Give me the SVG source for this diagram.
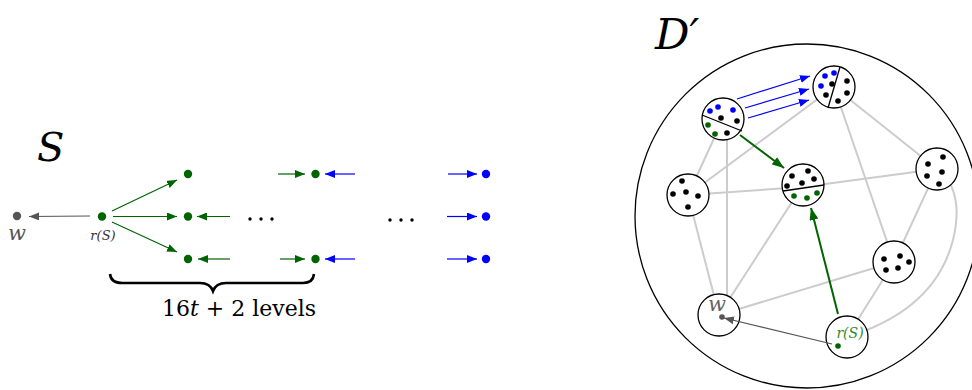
<svg xmlns="http://www.w3.org/2000/svg" width="972" height="390" viewBox="0 0 972 390">
  <style>
    .edge { stroke: #cccccc; stroke-width: 2; fill: none; }
    .bag { fill: #ffffff; stroke: #000000; stroke-width: 1.3; }
    .split { stroke: #000000; stroke-width: 1.3; }
    .k { fill: #000000; }
    .b { fill: #0000ff; }
    .g { fill: #006400; }
    .gr { fill: #555555; }
    text { font-family: 'DejaVu Serif', 'Liberation Serif', serif; }
    .math { font-style: italic; }
  </style>
  <defs>
    <marker id="ah-g" viewBox="0 0 10 8" refX="10" refY="4" markerWidth="10" markerHeight="8" markerUnits="userSpaceOnUse" orient="auto">
      <path d="M0,0 L10,4 L0,8 Z" fill="#006400"/>
    </marker>
    <marker id="ah-b" viewBox="0 0 10 8" refX="10" refY="4" markerWidth="10" markerHeight="8" markerUnits="userSpaceOnUse" orient="auto">
      <path d="M0,0 L10,4 L0,8 Z" fill="#0000ff"/>
    </marker>
    <marker id="ah-gr" viewBox="0 0 10 8" refX="10" refY="4" markerWidth="10" markerHeight="8" markerUnits="userSpaceOnUse" orient="auto">
      <path d="M0,0 L10,4 L0,8 Z" fill="#555555"/>
    </marker>
    <marker id="ah-g2" viewBox="0 0 12 9" refX="12" refY="4.5" markerWidth="12" markerHeight="9" markerUnits="userSpaceOnUse" orient="auto">
      <path d="M0,0 L12,4.5 L0,9 Z" fill="#006400"/>
    </marker>
  </defs>

  <!-- left: the tree S -->
  <text class="math" x="37" y="161" font-size="40">S</text>

  <g id="connectors-S">
    <line x1="90" y1="216" x2="29" y2="216.5" stroke="#555555" stroke-width="1.2" marker-end="url(#ah-gr)"/>
    <line x1="112" y1="211" x2="177" y2="180" stroke="#006400" stroke-width="1.2" marker-end="url(#ah-g)"/>
    <line x1="113" y1="216.5" x2="177" y2="216.5" stroke="#006400" stroke-width="1.2" marker-end="url(#ah-g)"/>
    <line x1="112" y1="222" x2="177" y2="252" stroke="#006400" stroke-width="1.2" marker-end="url(#ah-g)"/>
    <line x1="230" y1="216.5" x2="197" y2="216.5" stroke="#006400" stroke-width="1.2" marker-end="url(#ah-g)"/>
    <line x1="230" y1="259" x2="198" y2="259" stroke="#006400" stroke-width="1.2" marker-end="url(#ah-g)"/>
    <line x1="278" y1="174" x2="305" y2="174" stroke="#006400" stroke-width="1.2" marker-end="url(#ah-g)"/>
    <line x1="280" y1="259" x2="305" y2="259" stroke="#006400" stroke-width="1.2" marker-end="url(#ah-g)"/>
    <line x1="355" y1="174" x2="325" y2="174" stroke="#0000ff" stroke-width="1.2" marker-end="url(#ah-b)"/>
    <line x1="355" y1="259" x2="325" y2="259" stroke="#0000ff" stroke-width="1.2" marker-end="url(#ah-b)"/>
    <line x1="448" y1="174" x2="477" y2="174" stroke="#0000ff" stroke-width="1.2" marker-end="url(#ah-b)"/>
    <line x1="447" y1="216.5" x2="477" y2="216.5" stroke="#0000ff" stroke-width="1.2" marker-end="url(#ah-b)"/>
    <line x1="447" y1="259" x2="477" y2="259" stroke="#0000ff" stroke-width="1.2" marker-end="url(#ah-b)"/>
  </g>

  <g id="s-w">
    <circle class="gr" cx="17" cy="216" r="4.2"/>
    <text class="math" x="17" y="240" font-size="21" fill="#555555" text-anchor="middle">w</text>
  </g>
  <g id="s-root">
    <circle class="g" cx="102" cy="216.5" r="4.2"/>
    <text class="math" x="103" y="240" font-size="13" fill="#333333" text-anchor="middle">r(S)</text>
  </g>
  <g id="s-level1">
    <circle class="g" cx="188" cy="174" r="4.2"/>
    <circle class="g" cx="188" cy="216.5" r="4.2"/>
    <circle class="g" cx="188" cy="259" r="4.2"/>
  </g>
  <g id="s-dots1">
    <circle class="k" cx="250" cy="219" r="1.7"/>
    <circle class="k" cx="261" cy="219" r="1.7"/>
    <circle class="k" cx="272" cy="219" r="1.7"/>
  </g>
  <g id="s-level2">
    <circle class="g" cx="315.5" cy="174" r="4.2"/>
    <circle class="g" cx="315.5" cy="259" r="4.2"/>
  </g>
  <g id="s-dots2">
    <circle class="k" cx="390" cy="220" r="1.7"/>
    <circle class="k" cx="401" cy="220" r="1.7"/>
    <circle class="k" cx="412" cy="220" r="1.7"/>
  </g>
  <g id="s-leaves">
    <circle class="b" cx="486" cy="174" r="4.2"/>
    <circle class="b" cx="486" cy="216.5" r="4.2"/>
    <circle class="b" cx="486" cy="259" r="4.2"/>
  </g>

  <!-- brace under the levels -->
  <g id="brace">
    <path d="M110,274 Q111,283 122,283 L200,283 Q210,283 213,291 Q216,283 226,283 L303,283 Q313,283 314,274" fill="none" stroke="#000000" stroke-width="2.6"/>
    <text x="239" y="316" font-size="22" text-anchor="middle">16<tspan class="math">t</tspan> + 2 levels</text>
  </g>

  <!-- right: the graph D' -->
  <text class="math" x="655" y="49" font-size="43">D′</text>
  <circle cx="807" cy="216" r="172" fill="none" stroke="#000000" stroke-width="1.3"/>

  <g id="edges">
    <line class="edge" x1="723" y1="119" x2="688" y2="195"/>
    <line class="edge" x1="727" y1="130" x2="727" y2="300"/>
    <line class="edge" x1="688" y1="195" x2="834" y2="87"/>
    <line class="edge" x1="688" y1="195" x2="803" y2="187"/>
    <line class="edge" x1="803" y1="187" x2="937" y2="169"/>
    <line class="edge" x1="834" y1="87" x2="894" y2="262"/>
    <line class="edge" x1="834" y1="87" x2="937" y2="169"/>
    <line class="edge" x1="937" y1="169" x2="894" y2="262"/>
    <path class="edge" d="M937,169 Q965,190 953,240 Q935,310 847,337"/>
    <line class="edge" x1="688" y1="195" x2="719" y2="315"/>
    <line class="edge" x1="803" y1="185" x2="719" y2="315"/>
    <line class="edge" x1="894" y1="262" x2="719" y2="315"/>
    <line class="edge" x1="894" y1="262" x2="847" y2="337"/>
  </g>

  <g id="bag-A">
    <circle class="bag" cx="723" cy="119" r="21"/>
    <line class="split" x1="702" y1="115" x2="742" y2="131"/>
    <circle class="b" cx="710" cy="111" r="2.8"/>
    <circle class="b" cx="718" cy="107" r="2.8"/>
    <circle class="b" cx="733" cy="110" r="2.8"/>
    <circle class="k" cx="721" cy="118" r="2.8"/>
    <circle class="k" cx="737" cy="121" r="2.8"/>
    <circle class="g" cx="708" cy="125" r="2.8"/>
    <circle class="g" cx="715" cy="134" r="2.8"/>
    <circle class="k" cx="727" cy="133" r="2.8"/>
  </g>
  <g id="bag-B">
    <circle class="bag" cx="834" cy="87" r="21"/>
    <line class="split" x1="840" y1="67" x2="828" y2="108"/>
    <circle class="b" cx="825" cy="76" r="2.8"/>
    <circle class="b" cx="834" cy="73" r="2.8"/>
    <circle class="b" cx="821" cy="86" r="2.8"/>
    <circle class="k" cx="832" cy="84" r="2.8"/>
    <circle class="k" cx="826" cy="95" r="2.8"/>
    <circle class="k" cx="847" cy="81" r="2.8"/>
    <circle class="k" cx="847" cy="93" r="2.8"/>
    <circle class="k" cx="838" cy="101" r="2.8"/>
  </g>
  <g id="bag-C">
    <circle class="bag" cx="803" cy="185" r="21"/>
    <line class="split" x1="783" y1="191" x2="824" y2="185"/>
    <circle class="k" cx="792" cy="176" r="2.8"/>
    <circle class="k" cx="808" cy="171" r="2.8"/>
    <circle class="k" cx="787" cy="186" r="2.8"/>
    <circle class="k" cx="802" cy="183" r="2.8"/>
    <circle class="k" cx="814" cy="179" r="2.8"/>
    <circle class="g" cx="794" cy="196" r="2.8"/>
    <circle class="g" cx="807" cy="198" r="2.8"/>
    <circle class="g" cx="817" cy="193" r="2.8"/>
  </g>
  <g id="bag-D">
    <circle class="bag" cx="688" cy="195" r="21"/>
    <circle class="k" cx="682" cy="181" r="2.8"/>
    <circle class="k" cx="673" cy="194" r="2.8"/>
    <circle class="k" cx="686" cy="192" r="2.8"/>
    <circle class="k" cx="698" cy="196" r="2.8"/>
    <circle class="k" cx="688" cy="207" r="2.8"/>
  </g>
  <g id="bag-E">
    <circle class="bag" cx="937" cy="169" r="21"/>
    <circle class="k" cx="928" cy="164" r="2.8"/>
    <circle class="k" cx="943" cy="157" r="2.8"/>
    <circle class="k" cx="942" cy="172" r="2.8"/>
    <circle class="k" cx="927" cy="176" r="2.8"/>
    <circle class="k" cx="939" cy="184" r="2.8"/>
  </g>
  <g id="bag-F">
    <circle class="bag" cx="894" cy="262" r="21"/>
    <circle class="k" cx="884" cy="259" r="2.8"/>
    <circle class="k" cx="900" cy="256" r="2.8"/>
    <circle class="k" cx="909" cy="262" r="2.8"/>
    <circle class="k" cx="886" cy="270" r="2.8"/>
    <circle class="k" cx="898" cy="268" r="2.8"/>
  </g>
  <g id="bag-W">
    <circle class="bag" cx="719" cy="315" r="21"/>
    <text class="math" x="717" y="311" font-size="21" fill="#666666" text-anchor="middle">w</text>
    <circle class="gr" cx="722" cy="317" r="2.8"/>
  </g>
  <g id="bag-R">
    <circle class="bag" cx="847" cy="337" r="21"/>
    <text class="math" x="850" y="338" font-size="14" fill="#2e8b2e" text-anchor="middle">r(S)</text>
    <circle class="g" cx="838" cy="346" r="2.8"/>
  </g>

  <g id="connectors-D">
    <line x1="737" y1="99" x2="810" y2="76" stroke="#0000ff" stroke-width="1.2" marker-end="url(#ah-b)"/>
    <line x1="745" y1="108" x2="809" y2="89" stroke="#0000ff" stroke-width="1.2" marker-end="url(#ah-b)"/>
    <line x1="748" y1="118" x2="809" y2="100" stroke="#0000ff" stroke-width="1.2" marker-end="url(#ah-b)"/>
    <line x1="740" y1="135" x2="784" y2="168" stroke="#006400" stroke-width="2" marker-end="url(#ah-g2)"/>
    <line x1="838" y1="314" x2="811" y2="208" stroke="#006400" stroke-width="2" marker-end="url(#ah-g2)"/>
    <line x1="832" y1="344" x2="724" y2="318" stroke="#555555" stroke-width="1.1" marker-end="url(#ah-gr)"/>
  </g>
</svg>
